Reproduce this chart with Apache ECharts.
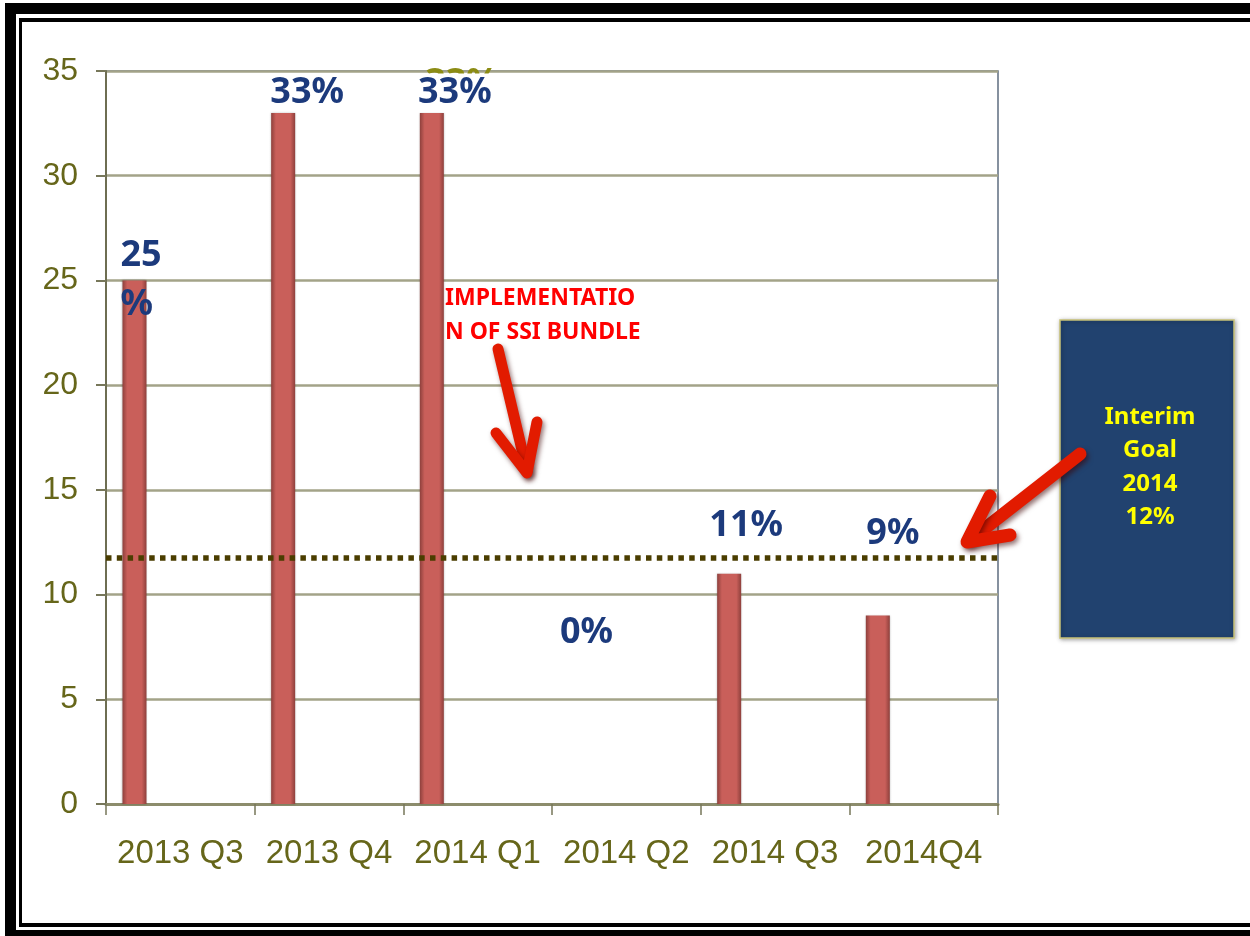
<!DOCTYPE html>
<html>
<head>
<meta charset="utf-8">
<script src="https://cdn.jsdelivr.net/npm/echarts@6/dist/echarts.min.js"></script>
<style>
html,body{margin:0;padding:0;background:#fff;}
#chart{width:1250px;height:936px;}
</style>
</head>
<body>
<div id="chart"></div>
<script>
// ---- data ----
const categories = ['2013 Q3', '2013 Q4', '2014 Q1', '2014 Q2', '2014 Q3', '2014Q4'];
const rates = [25, 33, 33, 0, 11, 9];
const rateLabels = ['25\n%', '33%', '33%', '0%', '11%', '9%'];
const yMin = 0, yMax = 35, yStep = 5;
const goalValue = 11.75;
const goalText = ['Interim', 'Goal', '2014', '12%'];
const noteText = ['IMPLEMENTATIO', 'N OF SSI BUNDLE'];
const hiddenLabel = '33%';

// ---- layout / style ----
const labelPlacement = [
  { position: [-2, 0], align: 'left', lineHeight: 49 },
  { position: [36, -20], align: 'center', lineHeight: 36 },
  { position: [35, -20], align: 'center', lineHeight: 36 },
  { position: [18, -171], align: 'center', lineHeight: 36 },
  { position: [29, -48], align: 'center', lineHeight: 36 },
  { position: [27, -82], align: 'center', lineHeight: 36 }
];
const olive = '#66661a';
const navy = '#1c3a7c';
const axisFont = '"Liberation Sans", Arial, sans-serif';
const boldFont = '"Noto Sans", "Open Sans", sans-serif';

const chart = echarts.init(document.getElementById('chart'), null, { renderer: 'canvas' });

const barColor = new echarts.graphic.LinearGradient(0, 0, 1, 0, [
  { offset: 0, color: '#8e403c' },
  { offset: 0.2, color: '#c95f5a' },
  { offset: 0.8, color: '#c95f5a' },
  { offset: 1, color: '#8e403c' }
]);

const barData = rates.map((v, i) => ({
  value: v,
  label: {
    show: true,
    formatter: rateLabels[i],
    position: labelPlacement[i].position,
    align: labelPlacement[i].align,
    lineHeight: labelPlacement[i].lineHeight,
    verticalAlign: 'middle',
    backgroundColor: i === 2 ? '#ffffff' : 'transparent',
    padding: i === 2 ? [3, 12, 0, 12] : 0
  }
}));

const arrowStyle = {
  stroke: '#e21b00',
  lineWidth: 11,
  lineCap: 'round',
  lineJoin: 'round',
  fill: null,
  shadowBlur: 5,
  shadowOffsetX: 2,
  shadowOffsetY: 3,
  shadowColor: 'rgba(60,0,0,0.55)'
};

const option = {
  backgroundColor: '#ffffff',
  animation: false,
  grid: {
    left: 106, right: 252, top: 71, bottom: 132,
    show: true, borderColor: '#5f6e80', borderWidth: 1.5, backgroundColor: 'transparent'
  },
  xAxis: {
    type: 'category',
    data: categories,
    boundaryGap: true,
    axisLine: { show: true, lineStyle: { color: '#8c8c6c', width: 3 } },
    axisTick: { show: true, length: 11, lineStyle: { color: '#77775a', width: 1.5 } },
    axisLabel: { interval: 0, color: olive, fontFamily: axisFont, fontSize: 33, margin: 33 },
    splitLine: { show: false }
  },
  yAxis: {
    type: 'value',
    min: yMin, max: yMax, interval: yStep,
    axisLine: { show: true, lineStyle: { color: '#6e6e52', width: 2 } },
    axisTick: { show: true, length: 10, lineStyle: { color: '#77775a', width: 2 } },
    axisLabel: { color: olive, fontFamily: axisFont, fontSize: 32, margin: 28 },
    splitLine: { show: true, lineStyle: { color: '#a3a388', width: 2.5 } }
  },
  series: [
    {
      type: 'bar',
      data: barData,
      barWidth: 24,
      barGap: '282%',
      itemStyle: { color: barColor, shadowColor: 'rgba(0,0,0,0.25)', shadowBlur: 2 },
      label: {
        color: navy,
        fontFamily: boldFont,
        fontWeight: 'bold',
        fontSize: 36
      },
      markLine: {
        silent: true,
        symbol: ['none', 'none'],
        label: { show: false },
        lineStyle: { color: '#4a3d00', width: 5.5, type: [5.5, 5.3], cap: 'butt' },
        data: [{ yAxis: goalValue }]
      },
      z: 3
    },
    {
      type: 'bar',
      data: categories.map(() => '-'),
      barWidth: 24,
      barGap: '282%'
    }
  ],
  graphic: [
    // double frame
    { type: 'rect', shape: { x: 5, y: 3, width: 1245, height: 11 }, style: { fill: '#000' }, z: 10 },
    { type: 'rect', shape: { x: 5, y: 3, width: 11, height: 933 }, style: { fill: '#000' }, z: 10 },
    { type: 'rect', shape: { x: 5, y: 930, width: 1245, height: 6 }, style: { fill: '#000' }, z: 10 },
    { type: 'rect', shape: { x: 19, y: 18, width: 1231, height: 4 }, style: { fill: '#000' }, z: 10 },
    { type: 'rect', shape: { x: 19, y: 18, width: 3, height: 909 }, style: { fill: '#000' }, z: 10 },
    { type: 'rect', shape: { x: 19, y: 923, width: 1231, height: 4 }, style: { fill: '#000' }, z: 10 },
    // hidden olive label peeking above the plot
    {
      type: 'text', x: 462, y: 84, z: 1,
      style: { text: hiddenLabel, fill: '#8c8c14', font: 'bold 36px ' + boldFont, align: 'center', verticalAlign: 'middle' }
    },
    // annotation text
    {
      type: 'text', x: 445, y: 315, z: 10,
      style: {
        text: noteText.join('\n'), fill: '#ff0000', font: 'bold 23px ' + boldFont,
        lineHeight: 34, align: 'left', verticalAlign: 'middle'
      }
    },
    // arrow 1
    { type: 'polyline', z: 10, shape: { points: [[498, 349], [527, 471]] }, style: arrowStyle },
    { type: 'polyline', z: 10, shape: { points: [[496, 433], [527, 473], [537, 422]] }, style: arrowStyle },
    // goal box
    {
      type: 'rect', z: 10,
      shape: { x: 1060, y: 320, width: 174, height: 318 },
      style: { fill: '#21426f', stroke: '#c9c278', lineWidth: 1.5, shadowBlur: 4, shadowColor: 'rgba(0,0,0,0.35)', shadowOffsetX: 1, shadowOffsetY: 1 }
    },
    {
      type: 'text', x: 1150, y: 467, z: 11,
      style: {
        text: goalText.join('\n'), fill: '#ffff00', font: 'bold 24px ' + boldFont,
        lineHeight: 33.5, align: 'center', verticalAlign: 'middle'
      }
    },
    // arrow 2
    { type: 'polyline', z: 12, shape: { points: [[1080, 454], [970, 540]] }, style: Object.assign({}, arrowStyle, { lineWidth: 13 }) },
    { type: 'polyline', z: 12, shape: { points: [[990, 496], [967, 542], [1010, 535]] }, style: Object.assign({}, arrowStyle, { lineWidth: 13 }) }
  ]
};

chart.setOption(option);
</script>
</body>
</html>
